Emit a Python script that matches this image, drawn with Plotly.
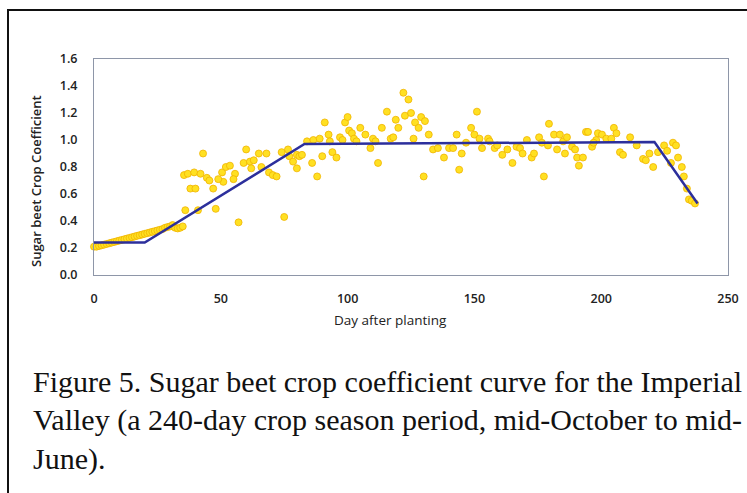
import plotly.graph_objects as go

# Observed crop coefficient (scatter)
obs_day = [0, 1, 2, 3, 4, 5, 6, 7, 8, 9, 10, 11, 12, 13, 14, 15, 16, 17, 18, 19, 20,
           21, 22, 23, 24, 25, 26, 27, 28, 29, 30, 31, 32, 33, 34, 35,
           36, 35.5, 37, 39.5, 38, 43, 42, 44.5, 45.5, 41, 40, 47, 48, 50.5, 52, 53.6,
           51, 49, 55.6, 55, 57, 59, 60, 61.5, 63, 65, 62, 66, 68, 69, 70.5, 72, 74,
           75, 76.5, 77, 78.5, 80, 80, 81, 82, 84, 86, 86.5, 88, 89, 90, 91, 92.5, 93,
           94, 95.6, 97, 98, 99, 100, 100.6, 101.7, 102.5, 103.5, 105, 107, 109, 110,
           111, 112, 113.5, 115.5, 117, 118, 119, 120, 122, 124, 122.6, 125, 126.6,
           128, 129, 130.5, 126, 132, 130, 133.7, 135.6, 138, 140, 141.6, 143, 144,
           145, 146.7, 148.7, 150, 151, 152, 153, 155.4, 156, 158, 159, 161, 163, 165,
           166.6, 168, 169, 170.7, 172.6, 173.5, 175.5, 176.6, 177.4, 179, 179.4,
           181.4, 182.6, 183.7, 185, 185.7, 186.5, 188.5, 189.7, 190.5, 191.2, 192.8,
           194, 194.8, 196.4, 198, 198.7, 197, 200.3, 202, 204, 205, 206, 207.4, 208.6,
           211.4, 214, 216.5, 217.6, 219, 220.5, 222.4, 224.8, 226, 228.3, 229.5,
           227.5, 230.3, 231.8, 232.6, 233.8, 234.6, 235.7, 237]
obs_kc = [0.21, 0.21, 0.215, 0.22, 0.225, 0.23, 0.235, 0.24, 0.245, 0.25, 0.255, 0.26,
          0.265, 0.27, 0.275, 0.28, 0.285, 0.29, 0.295, 0.30, 0.305, 0.31, 0.315, 0.32,
          0.325, 0.33, 0.335, 0.34, 0.35, 0.355, 0.36, 0.37, 0.35, 0.345, 0.35, 0.36,
          0.48, 0.74, 0.75, 0.76, 0.64, 0.90, 0.75, 0.72, 0.70, 0.48, 0.64, 0.64, 0.49,
          0.76, 0.80, 0.81, 0.69, 0.71, 0.75, 0.71, 0.39, 0.83, 0.93, 0.84, 0.85, 0.90,
          0.79, 0.80, 0.90, 0.76, 0.74, 0.73, 0.91, 0.43, 0.93, 0.88, 0.84, 0.79, 0.89,
          0.88, 0.89, 0.99, 0.83, 1.00, 0.73, 1.01, 0.88, 1.13, 1.04, 0.99, 0.91, 0.87,
          1.02, 1.00, 1.13, 1.17, 1.07, 1.05, 1.01, 0.99, 1.09, 1.04, 0.94, 1.01, 0.99,
          0.83, 1.09, 1.21, 1.01, 1.02, 1.15, 1.09, 1.35, 1.30, 1.18, 1.20, 1.13, 1.09,
          1.17, 1.14, 1.01, 1.04, 0.73, 0.93, 0.94, 0.87, 0.94, 0.94, 1.04, 0.78, 0.90,
          0.98, 1.09, 1.04, 1.21, 1.01, 0.94, 1.01, 0.99, 0.94, 0.96, 0.89, 0.93, 0.83,
          0.95, 0.94, 0.90, 1.00, 0.87, 0.90, 1.02, 0.98, 0.73, 0.96, 1.12, 1.04, 0.93,
          1.04, 0.99, 0.90, 1.02, 0.95, 0.93, 0.87, 0.81, 0.87, 1.06, 1.06, 0.95, 1.00,
          1.05, 0.98, 1.04, 1.01, 1.01, 1.09, 1.05, 0.91, 0.89, 1.02, 0.96, 0.86, 0.85,
          0.90, 0.80, 0.91, 0.96, 0.92, 0.98, 0.96, 0.83, 0.87, 0.80, 0.73, 0.64, 0.56,
          0.55, 0.53]

# Fitted crop coefficient curve (line)
curve_day = [0, 20, 83, 221, 238]
curve_kc = [0.24, 0.24, 0.97, 0.985, 0.53]

x_ticks = [0, 50, 100, 150, 200, 250]
y_ticks = [0.0, 0.2, 0.4, 0.6, 0.8, 1.0, 1.2, 1.4, 1.6]

caption_lines = [
    "Figure 5. Sugar beet crop coefficient curve for the Imperial",
    "Valley (a 240-day crop season period, mid-October to mid-",
    "June).",
]

fig = go.Figure()
fig.add_trace(go.Scatter(
    x=obs_day, y=obs_kc, mode="markers",
    marker=dict(size=7, color="#FFE022", line=dict(color="#F0B400", width=0.8)),
    showlegend=False, hoverinfo="x+y", cliponaxis=False,
))
fig.add_trace(go.Scatter(
    x=curve_day, y=curve_kc, mode="lines",
    line=dict(color="#2C2F9C", width=2.5),
    showlegend=False,
))

L, R, T, B = 94, 19, 59, 218
PW, PH = 747 - L - R, 493 - T - B


def px(xp):
    return (xp - L) / PW


def py(yp):
    return (493 - B - yp) / PH


tick_font = dict(family="Open Sans", size=12.5, color="#222222", weight=600)

fig.update_layout(
    width=747, height=493,
    margin=dict(l=L, r=R, t=T, b=B, pad=0, autoexpand=False),
    paper_bgcolor="white", plot_bgcolor="white",
    font=dict(family="Open Sans"),
    xaxis=dict(
        range=[0, 250], tickvals=x_ticks, ticktext=[str(v) for v in x_ticks],
        showgrid=False, zeroline=False, showline=True, linecolor="#8E96A8", linewidth=1,
        mirror=True, ticks="", tickfont=tick_font, ticklabelstandoff=12, automargin=False,
    ),
    yaxis=dict(
        range=[0, 1.6], tickvals=y_ticks, ticktext=[f"{v:.1f}" for v in y_ticks],
        showgrid=False, zeroline=False, showline=True, linecolor="#8E96A8", linewidth=1,
        mirror=True, ticks="", tickfont=tick_font, ticklabelstandoff=13, automargin=False,
    ),
    shapes=[
        dict(type="rect", xref="paper", yref="paper",
             x0=px(8), y0=py(520), x1=px(770), y1=py(10),
             line=dict(color="#111111", width=2), fillcolor="rgba(0,0,0,0)", layer="below"),
    ],
)

annotations = [
    dict(text="Sugar beet Crop Coefficient", xref="paper", yref="paper",
         x=px(36), y=py(181), textangle=-90, showarrow=False,
         font=dict(family="Open Sans", size=13, color="#222222", weight=600),
         xanchor="center", yanchor="middle"),
    dict(text="Day after planting", xref="paper", yref="paper",
         x=px(390), y=py(320), showarrow=False,
         font=dict(family="Open Sans", size=13.5, color="#222222"),
         xanchor="center", yanchor="middle"),
]
for i, line in enumerate(caption_lines):
    annotations.append(dict(
        text=line, xref="paper", yref="paper", x=px(31), y=py(381 + 39 * i),
        showarrow=False, xanchor="left", yanchor="middle",
        font=dict(family="Liberation Serif", size=30, color="#111111"),
    ))
fig.update_layout(annotations=annotations)

fig.write_html("out.html", config={"displayModeBar": False},
               post_script="document.body.style.margin='0';document.body.style.padding='0';")
